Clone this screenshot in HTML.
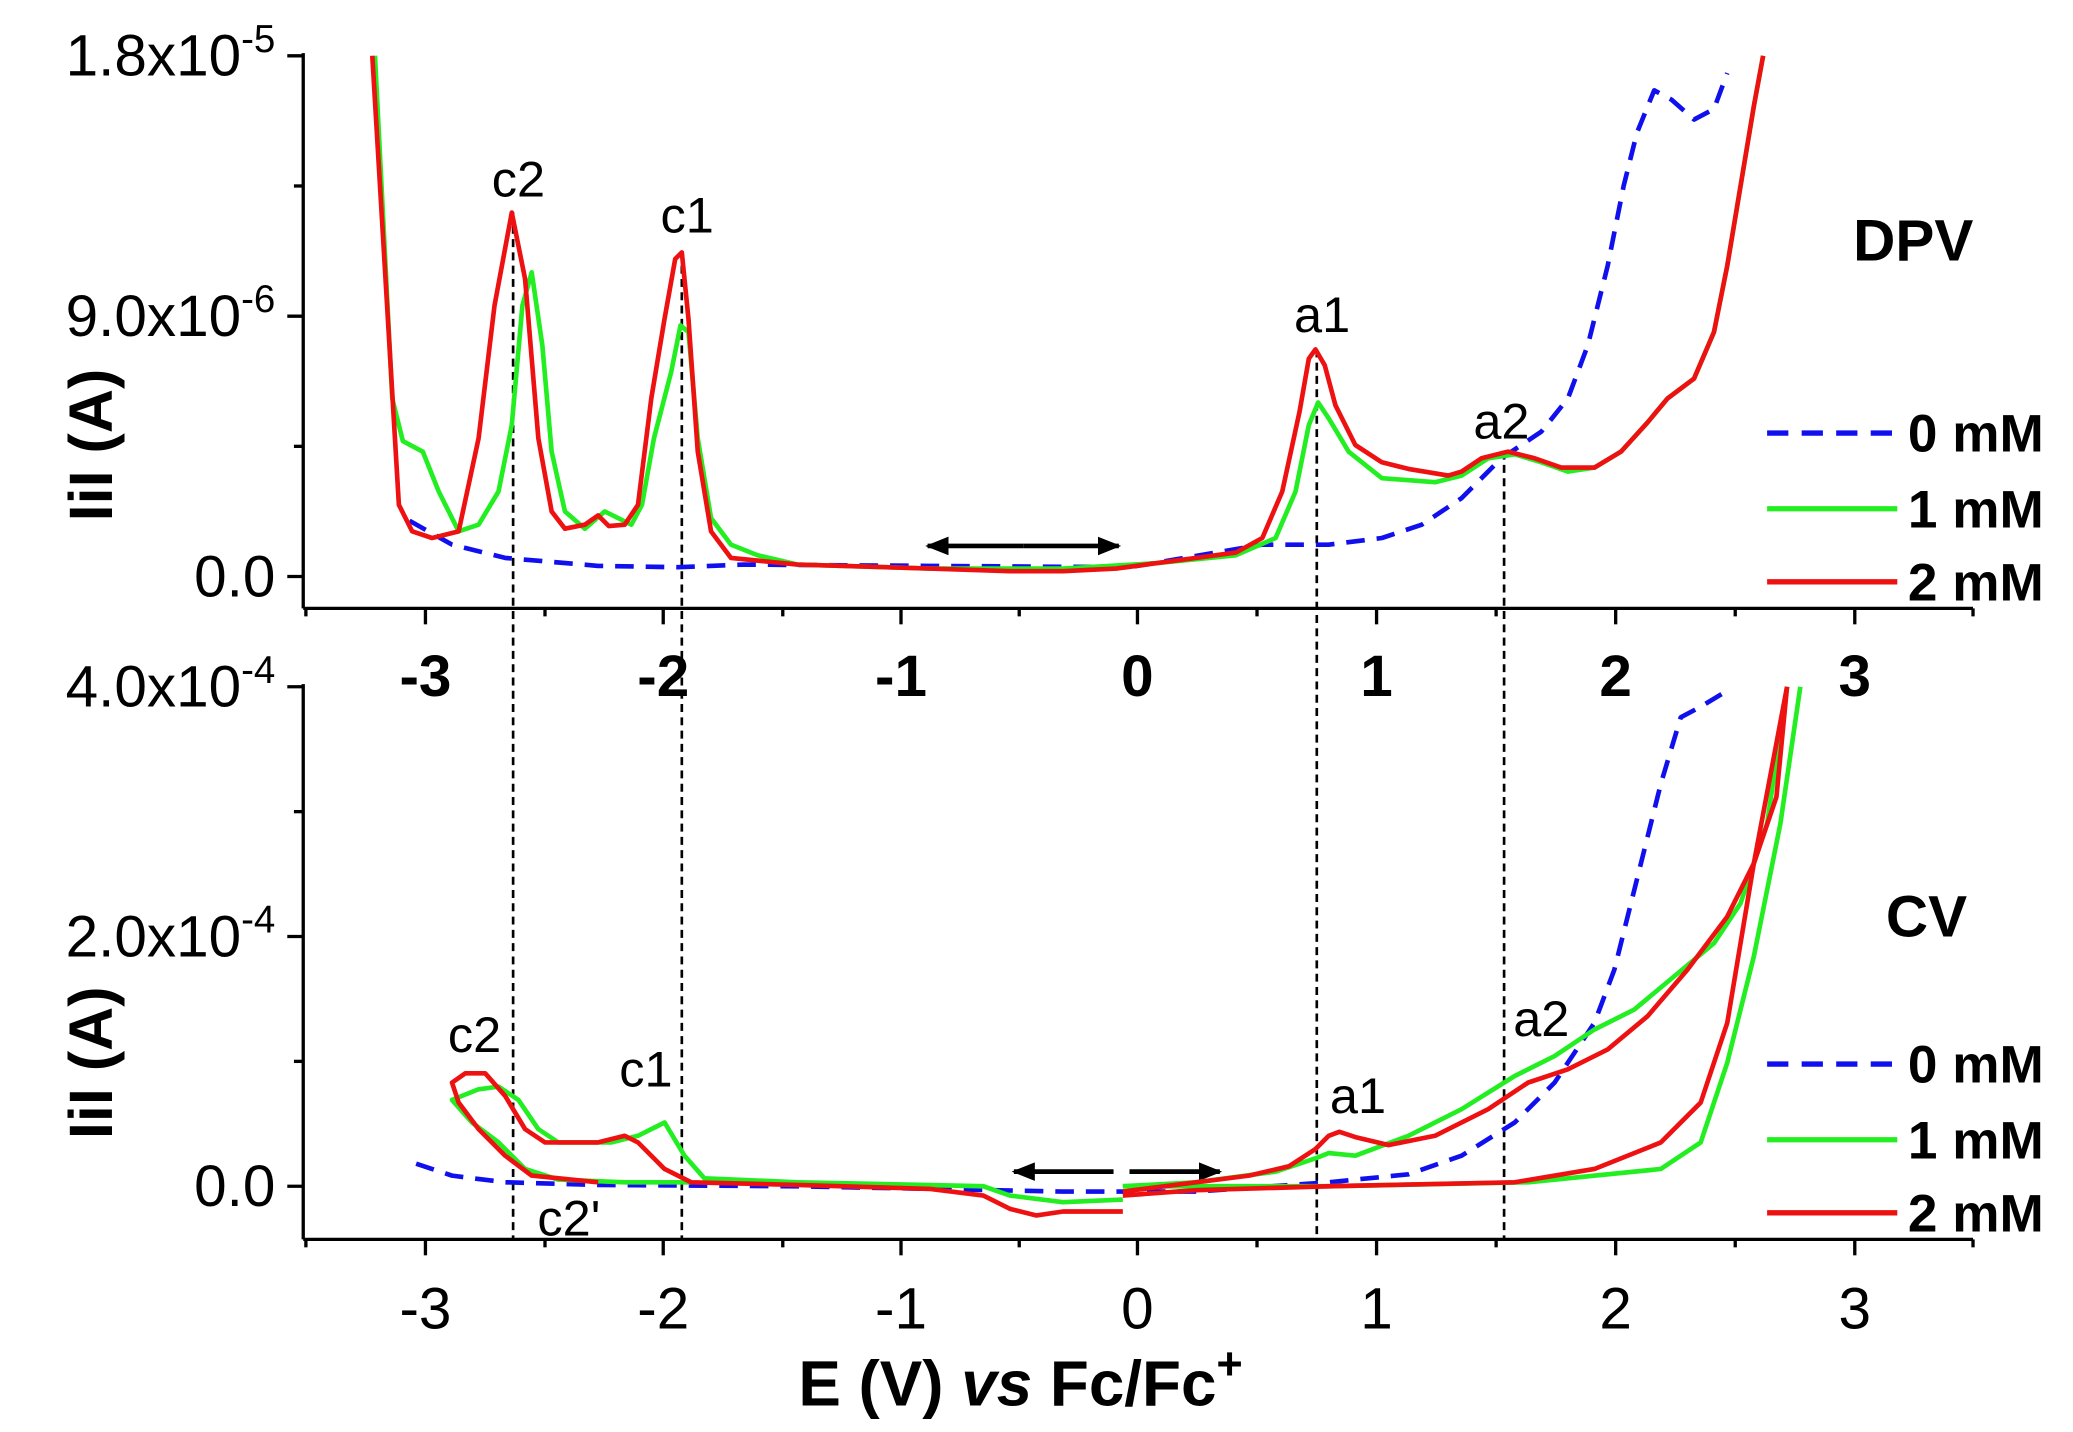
<!DOCTYPE html>
<html><head><meta charset="utf-8"><style>
html,body{margin:0;padding:0;background:#fff}
svg{display:block}
text{font-family:"Liberation Sans",Arial,sans-serif}
</style></head><body>
<svg width="2073" height="1432" viewBox="0 0 1560 1078" xmlns="http://www.w3.org/2000/svg">
<defs>
<marker id="ar" viewBox="0 0 10 10" refX="9" refY="5" markerWidth="5" markerHeight="5" orient="auto"><path d="M0,1 L10,5 L0,9 z" fill="#000"/></marker>
</defs>
<g stroke="#000" stroke-width="2.5" fill="none">
<line x1="228" y1="40" x2="228" y2="458"/>
<line x1="228" y1="458" x2="1485" y2="458"/>
<line x1="216" y1="42" x2="228" y2="42"/><line x1="216" y1="238" x2="228" y2="238"/><line x1="216" y1="434" x2="228" y2="434"/>
<line x1="221" y1="140" x2="228" y2="140"/><line x1="221" y1="336" x2="228" y2="336"/>
<line x1="228" y1="515" x2="228" y2="933"/>
<line x1="228" y1="933" x2="1485" y2="933"/>
<line x1="216" y1="517" x2="228" y2="517"/><line x1="216" y1="705" x2="228" y2="705"/><line x1="216" y1="893" x2="228" y2="893"/>
<line x1="221" y1="611" x2="228" y2="611"/><line x1="221" y1="799" x2="228" y2="799"/>
</g>
<g stroke="#000" stroke-width="2.5">
<g id="tk">
<line x1="320" y1="458" x2="320" y2="470"/><line x1="499" y1="458" x2="499" y2="470"/><line x1="678" y1="458" x2="678" y2="470"/><line x1="856" y1="458" x2="856" y2="470"/><line x1="1036" y1="458" x2="1036" y2="470"/><line x1="1216" y1="458" x2="1216" y2="470"/><line x1="1396" y1="458" x2="1396" y2="470"/>
<line x1="230" y1="458" x2="230" y2="464"/><line x1="410" y1="458" x2="410" y2="464"/><line x1="589" y1="458" x2="589" y2="464"/><line x1="767" y1="458" x2="767" y2="464"/><line x1="946" y1="458" x2="946" y2="464"/><line x1="1126" y1="458" x2="1126" y2="464"/><line x1="1306" y1="458" x2="1306" y2="464"/><line x1="1485" y1="458" x2="1485" y2="464"/>
</g>
<use href="#tk" transform="translate(0,475)"/>
</g>
<g font-size="44" text-anchor="end" fill="#000">
<text x="207" y="57">1.8x10<tspan font-size="29" dy="-18">-5</tspan></text>
<text x="207" y="253">9.0x10<tspan font-size="29" dy="-18">-6</tspan></text>
<text x="207" y="449">0.0</text>
<text x="207" y="532">4.0x10<tspan font-size="29" dy="-18">-4</tspan></text>
<text x="207" y="720">2.0x10<tspan font-size="29" dy="-18">-4</tspan></text>
<text x="207" y="908">0.0</text>
</g>
<g font-size="44" font-weight="bold" text-anchor="middle">
<text x="320" y="524">-3</text><text x="499" y="524">-2</text><text x="678" y="524">-1</text><text x="856" y="524">0</text><text x="1036" y="524">1</text><text x="1216" y="524">2</text><text x="1396" y="524">3</text>
</g>
<g font-size="44" text-anchor="middle">
<text x="320" y="1000">-3</text><text x="499" y="1000">-2</text><text x="678" y="1000">-1</text><text x="856" y="1000">0</text><text x="1036" y="1000">1</text><text x="1216" y="1000">2</text><text x="1396" y="1000">3</text>
</g>
<text x="768" y="1058" font-size="48" font-weight="bold" text-anchor="middle">E (V) <tspan font-style="italic">vs</tspan> Fc/Fc<tspan font-size="34" dy="-20">+</tspan></text>
<text transform="translate(84,335) rotate(-90)" font-size="46" font-weight="bold" text-anchor="middle">IiI (A)</text>
<text transform="translate(84,800) rotate(-90)" font-size="46" font-weight="bold" text-anchor="middle">IiI (A)</text>
<text x="1440" y="196" font-size="44" font-weight="bold" text-anchor="middle">DPV</text>
<text x="1450" y="705" font-size="44" font-weight="bold" text-anchor="middle">CV</text>
<g stroke="#000" stroke-width="2" stroke-dasharray="6,4">
<line x1="386" y1="160" x2="386" y2="933"/><line x1="513" y1="190" x2="513" y2="933"/>
<line x1="991" y1="263" x2="991" y2="933"/><line x1="1132" y1="340" x2="1132" y2="933"/>
</g>
<g font-size="38" text-anchor="middle">
<text x="390" y="148">c2</text><text x="517" y="175">c1</text><text x="995" y="250">a1</text><text x="1130" y="330">a2</text>
<text x="357" y="792">c2</text><text x="486" y="818">c1</text><text x="1022" y="838">a1</text><text x="1160" y="780">a2</text><text x="428" y="930">c2'</text>
</g>
<g stroke="#000" stroke-width="3.5" marker-end="url(#ar)">
<line x1="770" y1="411" x2="698" y2="411"/><line x1="770" y1="411" x2="842" y2="411"/>
<line x1="838" y1="882" x2="763" y2="882"/><line x1="850" y1="882" x2="918" y2="882"/>
</g>
<g fill="none" stroke-width="3.5" stroke-linejoin="round">
<polyline stroke="#1010ee" stroke-dasharray="14,9" points="308,392 340,410 380,420 450,426 510,427 560,425 700,426 850,427 950,410 1000,410 1040,405 1070,395 1100,375 1130,345 1160,325 1180,300 1195,260 1210,200 1222,140 1232,100 1245,68 1258,75 1275,90 1290,82 1300,55"/>
<polyline stroke="#22ee22" points="282,42 295,300 303,332 318,340 330,370 345,400 360,395 375,370 385,320 393,230 400,205 408,260 415,340 425,385 440,398 455,385 465,390 475,395 483,380 492,330 505,280 512,245 518,250 525,330 535,390 550,410 570,418 600,425 700,428 800,428 870,424 930,418 960,405 975,370 985,320 992,303 1000,315 1015,340 1040,360 1080,363 1100,358 1120,345 1140,342 1160,348 1180,355 1200,352 1220,340 1240,318 1255,300 1275,285 1290,250 1300,200 1310,140 1320,80 1327,42"/>
<polyline stroke="#ee1111" points="280,42 300,380 310,400 325,405 345,400 360,330 372,230 385,160 395,210 405,330 415,385 425,398 440,395 450,388 458,396 470,395 480,380 490,300 500,240 508,195 513,190 518,240 525,340 535,400 550,420 600,425 700,428 760,430 800,430 840,428 870,424 900,420 930,416 950,405 965,370 978,310 985,270 990,263 997,275 1005,305 1020,335 1040,348 1060,353 1090,358 1100,355 1115,345 1135,340 1155,345 1175,352 1200,352 1220,340 1240,318 1255,300 1275,285 1290,250 1300,200 1310,140 1320,80 1327,42"/>
<polyline stroke="#1010ee" stroke-dasharray="14,9" points="313,876 340,885 380,890 450,892 600,893 800,897 900,897 1000,890 1060,884 1100,870 1140,845 1170,815 1200,770 1215,730 1230,670 1250,590 1265,540 1280,532 1300,520"/>
<polyline stroke="#22ee22" points="845,893 900,890 960,882 990,872 1000,868 1020,870 1060,855 1100,835 1140,810 1170,795 1200,775 1230,760 1260,735 1290,710 1310,680 1330,620 1345,517"/>
<polyline stroke="#22ee22" points="1355,517 1340,620 1320,720 1300,800 1280,860 1250,880 1150,890 1000,893 845,893"/>
<polyline stroke="#22ee22" points="845,903 800,905 760,900 740,893 600,890 530,887 515,870 500,845 480,855 460,860 440,860 420,860 405,850 390,828 375,818 360,820 340,828 355,845 375,860 395,880 420,888 470,890 520,890"/>
<polyline stroke="#ee1111" points="845,897 900,890 940,885 970,878 990,865 1000,855 1008,852 1020,856 1045,862 1080,855 1120,835 1150,815 1180,805 1210,790 1240,765 1270,730 1300,690 1320,650 1337,600 1345,517"/>
<polyline stroke="#ee1111" points="1345,517 1320,650 1300,770 1280,830 1250,860 1200,880 1140,890 1000,893 900,896 845,900"/>
<polyline stroke="#ee1111" points="845,912 800,912 780,915 760,910 740,900 700,895 600,892 520,890 500,880 480,860 470,855 450,860 430,860 410,860 395,850 380,825 365,808 350,808 340,815 345,830 360,850 380,870 400,885 450,890"/>
</g>
<g font-size="40" font-weight="bold">
<line x1="1330" y1="326" x2="1428" y2="326" stroke="#1010ee" stroke-width="4" stroke-dasharray="16,10"/><text x="1436" y="340">0 mM</text>
<line x1="1330" y1="383" x2="1428" y2="383" stroke="#22ee22" stroke-width="4"/><text x="1436" y="397">1 mM</text>
<line x1="1330" y1="438" x2="1428" y2="438" stroke="#ee1111" stroke-width="4"/><text x="1436" y="452">2 mM</text>
<line x1="1330" y1="801" x2="1428" y2="801" stroke="#1010ee" stroke-width="4" stroke-dasharray="16,10"/><text x="1436" y="815">0 mM</text>
<line x1="1330" y1="858" x2="1428" y2="858" stroke="#22ee22" stroke-width="4"/><text x="1436" y="872">1 mM</text>
<line x1="1330" y1="913" x2="1428" y2="913" stroke="#ee1111" stroke-width="4"/><text x="1436" y="927">2 mM</text>
</g>
</svg>
</body></html>
